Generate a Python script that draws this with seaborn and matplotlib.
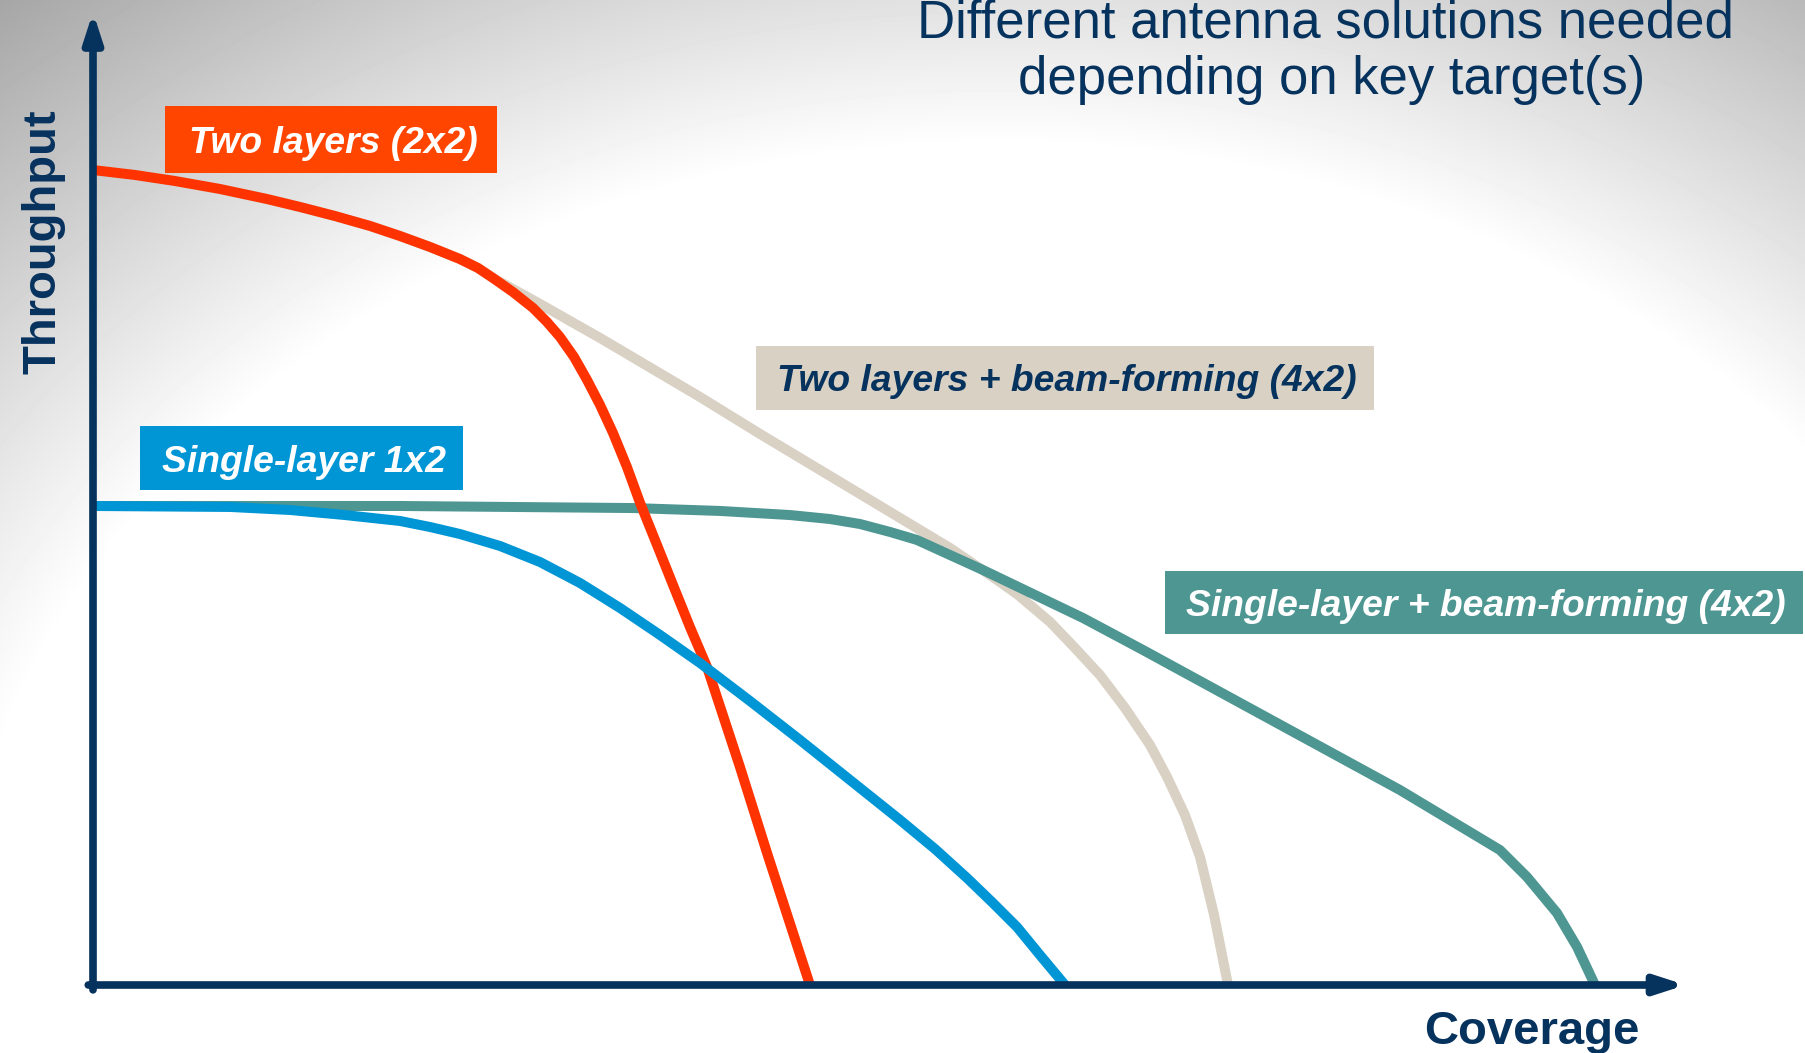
import numpy as np
import matplotlib
matplotlib.use("Agg")
import matplotlib.pyplot as plt
import seaborn as sns
from matplotlib.patches import Rectangle

# curves: coverage (0 = origin, 100 = arrow tip) vs throughput
red_x = [0, 2.65, 5.18, 8.02, 10.99, 13.08, 15.29, 17.50, 19.39, 21.29, 23.18, 24.32, 25.27,
         26.53, 27.80, 28.68, 29.50, 30.39, 31.21, 32.03, 32.85, 33.73, 34.56, 35.63, 36.64,
         37.71, 38.79, 40.87, 42.58, 45.29]
red_y = [83.76, 83.25, 82.63, 81.81, 80.78, 79.96, 79.03, 78.01, 76.98, 75.85, 74.61, 73.69, 72.66,
         71.22, 69.58, 68.14, 66.60, 64.54, 62.18, 59.61, 56.73, 53.24, 49.54, 45.22, 41.11,
         36.79, 32.68, 22.40, 13.57, 0]

beige_x = [0, 2.65, 5.18, 8.02, 10.99, 13.08, 15.29, 17.50, 19.39, 21.29, 23.18, 24.32, 25.27,
           28.24, 32.03, 38.35, 42.14, 45.93, 49.72, 54.14, 56.66, 58.37, 60.46, 62.03, 63.61,
           65.19, 66.77, 67.85, 68.98, 69.93, 70.82, 71.70]
beige_y = [83.76, 83.25, 82.63, 81.81, 80.78, 79.96, 79.03, 78.01, 76.98, 75.85, 74.61, 73.69, 72.66,
           69.99, 66.50, 60.43, 56.63, 52.93, 49.23, 44.91, 42.14, 40.18, 37.31, 34.64, 31.86,
           28.47, 24.67, 21.38, 17.47, 13.16, 7.19, 0]

teal_x = [0, 19.39, 34.11, 39.61, 44.03, 46.56, 48.45, 50.35, 52.05, 54.14, 56.22, 62.54, 66.33,
          82.56, 88.88, 89.51, 90.59, 92.48, 93.75, 94.88]
teal_y = [49.23, 49.23, 49.02, 48.72, 48.30, 47.89, 47.38, 46.56, 45.74, 44.19, 42.65, 37.72, 34.43,
          20.04, 13.87, 12.85, 11.10, 7.40, 3.91, 0]

blue_x = [0, 8.65, 12.44, 15.92, 19.39, 21.29, 23.18, 25.71, 28.24, 30.76, 33.29, 35.82, 38.35,
          41.50, 44.66, 47.82, 50.98, 53.19, 55.21, 56.85, 58.37, 59.82, 61.40]
blue_y = [49.23, 49.13, 48.82, 48.30, 47.69, 47.07, 46.35, 45.12, 43.47, 41.32, 38.75, 35.97, 33.09,
          29.19, 25.18, 21.07, 16.96, 13.98, 11.00, 8.43, 5.96, 3.08, 0]

labels = ["Two layers (2x2)", "Two layers + beam-forming (4x2)",
          "Single-layer 1x2", "Single-layer + beam-forming (4x2)"]
title_lines = ["Different antenna solutions needed", "depending on key target(s)"]

NAVY = "#06325E"
RED = "#FF3300"
RED_BOX = "#FF4500"
BEIGE = "#D9D1C4"
BLUE = "#0095D5"
TEAL = "#4E9692"

sns.set_style("white")
plt.rcParams["font.family"] = ["Liberation Sans", "DejaVu Sans"]

W, H = 1805, 1053
fig = plt.figure(figsize=(W / 100, H / 100), dpi=100)


def fx(px):
    return px / W


def fy(py):
    return 1 - py / H


# grey background, darker towards the top corners
bg = fig.add_axes([0, 0, 1, 1], zorder=-5)
yy, xx = np.mgrid[0:H, 0:W]
d = np.sqrt(((xx - 1000) / 1100.0) ** 2 + ((yy - 1000) / 900.0) ** 2)
shade = 1 - 0.72 * np.clip(d - 0.95, 0, None)
shade = np.clip(shade, 0.6, 1)
bg.imshow(shade, cmap="gray", vmin=0, vmax=1, aspect="auto", interpolation="bilinear")
bg.axis("off")

ax = fig.add_axes([93 / W, (H - 985) / H, (1676 - 93) / W, (985 - 12) / H])
ax.patch.set_alpha(0)
ax.set_xlim(0, 100)
ax.set_ylim(0, 100)
for s in ax.spines.values():
    s.set_visible(False)
ax.set_xticks([])
ax.set_yticks([])

lw = 7.2
line_kw = dict(linewidth=lw, solid_joinstyle="round", solid_capstyle="butt")
sns.lineplot(x=beige_x, y=beige_y, ax=ax, color=BEIGE, zorder=2, **line_kw)
sns.lineplot(x=teal_x, y=teal_y, ax=ax, color=TEAL, zorder=3, **line_kw)
sns.lineplot(x=red_x, y=red_y, ax=ax, color=RED, zorder=4, **line_kw)
sns.lineplot(x=blue_x, y=blue_y, ax=ax, color=BLUE, zorder=5, **line_kw)

# axis arrows
arrow = dict(arrowstyle="-|>,head_length=1.7,head_width=0.55", color=NAVY, lw=5.5,
             shrinkA=0, shrinkB=0, mutation_scale=10)
ax.annotate("", xy=(1.006, 0), xytext=(-0.003, 0), xycoords="axes fraction",
            arrowprops=arrow, annotation_clip=False, zorder=10)
ax.annotate("", xy=(0, 1.0), xytext=(0, -0.005), xycoords="axes fraction",
            arrowprops=arrow, annotation_clip=False, zorder=10)

# label boxes (pixel extents)
boxes = [(165, 497, 106, 173, RED_BOX, "white"),
         (756, 1374, 346, 410, BEIGE, NAVY),
         (140, 463, 426, 490, BLUE, "white"),
         (1165, 1803, 571, 634, TEAL, "white")]
for (x0, x1, y0, y1, fc, tc), lab in zip(boxes, labels):
    fig.patches.append(Rectangle((fx(x0), fy(y1)), fx(x1) - fx(x0), fy(y0) - fy(y1),
                                 transform=fig.transFigure, facecolor=fc,
                                 edgecolor="none", zorder=6))
    fig.text(fx((x0 + x1) / 2 + 2), fy((y0 + y1) / 2 + 4), lab, ha="center", va="center",
             fontsize=26.8, fontweight="bold", fontstyle="italic", color=tc, zorder=7)

fig.text(fx(1325), fy(38), title_lines[0], ha="center", va="baseline",
         fontsize=38, color=NAVY)
fig.text(fx(1332), fy(94), title_lines[1], ha="center", va="baseline",
         fontsize=38, color=NAVY)

fig.text(fx(43), fy(242), "Throughput", rotation=90, ha="center", va="center",
         fontsize=34, fontweight="bold", color=NAVY)
fig.text(fx(1532), fy(1044), "Coverage", ha="center", va="baseline",
         fontsize=34, fontweight="bold", color=NAVY)

fig.savefig("out.png", dpi=100)
